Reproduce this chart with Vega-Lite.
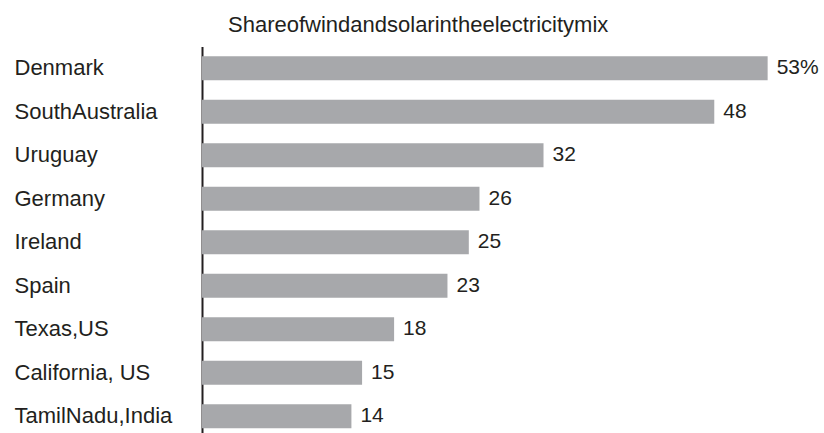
{
  "$schema": "https://vega.github.io/schema/vega-lite/v6.json",
  "autosize": "none",
  "width": 619,
  "height": 391.5,
  "padding": {"left": 202, "top": 46.5, "right": 3, "bottom": 0},
  "background": "white",
  "config": {"view": {"stroke": null}, "font": "Liberation Sans"},
  "title": {
    "text": "Shareofwindandsolarintheelectricitymix",
    "anchor": "start",
    "frame": "group",
    "dx": 26,
    "offset": -7,
    "baseline": "alphabetic",
    "font": "Liberation Sans",
    "fontSize": 22,
    "fontWeight": "normal",
    "color": "#231f20"
  },
  "data": {
    "values": [
      {"region": "Denmark", "share": 53, "label": "53%"},
      {"region": "SouthAustralia", "share": 48, "label": "48"},
      {"region": "Uruguay", "share": 32, "label": "32"},
      {"region": "Germany", "share": 26, "label": "26"},
      {"region": "Ireland", "share": 25, "label": "25"},
      {"region": "Spain", "share": 23, "label": "23"},
      {"region": "Texas,US", "share": 18, "label": "18"},
      {"region": "California, US", "share": 15, "label": "15"},
      {"region": "TamilNadu,India", "share": 14, "label": "14"}
    ]
  },
  "encoding": {
    "y": {
      "field": "region",
      "type": "nominal",
      "sort": null,
      "scale": {"paddingInner": 0.45, "paddingOuter": 0.225},
      "axis": {
        "title": null,
        "ticks": false,
        "tickSize": 0,
        "grid": false,
        "domain": true,
        "domainColor": "#231f20",
        "domainWidth": 2,
        "labelAlign": "left",
        "labelPadding": 188,
        "labelLimit": 300,
        "labelFont": "Liberation Sans",
        "labelFontSize": 22,
        "labelColor": "#231f20"
      }
    },
    "x": {
      "field": "share",
      "type": "quantitative",
      "scale": {"domain": [0, 58], "nice": false},
      "axis": null
    }
  },
  "layer": [
    {"mark": {"type": "bar", "color": "#a7a8ab"}},
    {
      "mark": {
        "type": "text",
        "align": "left",
        "baseline": "middle",
        "dx": 9,
        "font": "Liberation Sans",
        "fontSize": 21,
        "color": "#231f20"
      },
      "encoding": {"text": {"field": "label"}}
    }
  ]
}
